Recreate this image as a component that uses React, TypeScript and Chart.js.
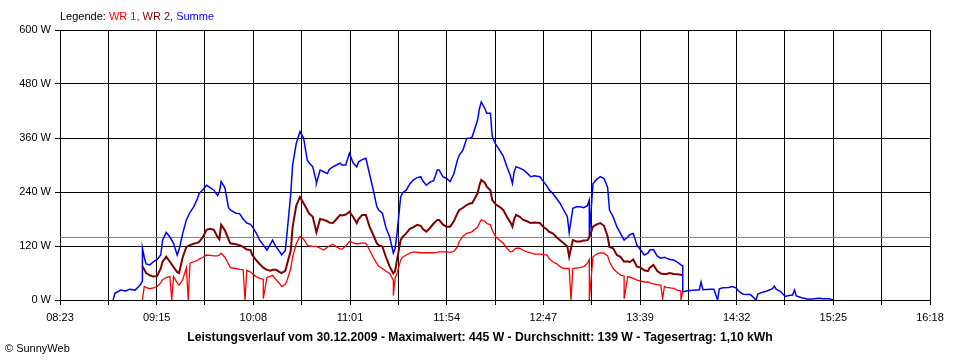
import React, { useEffect, useRef } from "react";
import { Chart, registerables } from "chart.js";

Chart.register(...registerables);

// ---- data -------------------------------------------------------------
const SERIES_NAMES = ["WR 1", "WR 2", "Summe"];
const SERIES_COLORS = ["#ff0000", "#800000", "#0000ff"];

const X_START = "08:23";
const X_END = "16:18";
const X_TICK_LABELS = ["08:23", "09:15", "10:08", "11:01", "11:54", "12:47", "13:39", "14:32", "15:25", "16:18"];
const Y_TICKS = [0, 120, 240, 360, 480, 600];
const AVERAGE_W = 139;

const TITLE_TEXT = "Leistungsverlauf vom 30.12.2009 - Maximalwert: 445 W - Durchschnitt: 139 W - Tagesertrag: 1,10 kWh";
const COPYRIGHT_TEXT = "\u00A9 SunnyWeb";
const LEGEND_LABEL = "Legende: ";

// main period, all three series
const TIMES = [
  "09:08", "09:09", "09:10", "09:12", "09:14", "09:16", "09:18", "09:19", "09:21", "09:23",
  "09:25", "09:27", "09:28", "09:30", "09:32", "09:34", "09:36", "09:38", "09:39", "09:41",
  "09:43", "09:45", "09:47", "09:49", "09:50", "09:51", "09:53", "09:55", "09:56", "09:59",
  "10:01", "10:03", "10:05", "10:07", "10:08", "10:10", "10:12", "10:14", "10:16", "10:18",
  "10:19", "10:21", "10:23", "10:24", "10:26", "10:27", "10:29", "10:30", "10:32", "10:34",
  "10:36", "10:38", "10:39", "10:41", "10:43", "10:45", "10:47", "10:49", "10:50", "10:52",
  "10:54", "10:56", "10:57", "10:59", "11:01", "11:03", "11:05", "11:06", "11:08", "11:10",
  "11:12", "11:14", "11:16", "11:17", "11:19", "11:21", "11:23", "11:25", "11:26", "11:27",
  "11:29", "11:30", "11:32", "11:34", "11:36", "11:38", "11:40", "11:41", "11:43", "11:45",
  "11:47", "11:49", "11:50", "11:52", "11:54", "11:56", "11:58", "12:00", "12:01", "12:03",
  "12:05", "12:07", "12:08", "12:11", "12:12", "12:13", "12:15", "12:16", "12:18", "12:19",
  "12:21", "12:23", "12:25", "12:27", "12:29", "12:30", "12:31", "12:32", "12:34", "12:36",
  "12:38", "12:40", "12:42", "12:45", "12:47", "12:49", "12:50", "12:52", "12:54", "12:56",
  "12:58", "13:00", "13:01", "13:03", "13:05", "13:07", "13:09", "13:11", "13:12", "13:14",
  "13:16", "13:18", "13:20", "13:22", "13:23", "13:25", "13:27", "13:29", "13:31", "13:33",
  "13:34", "13:36", "13:38", "13:40", "13:42", "13:44", "13:45", "13:47", "13:49", "13:51",
  "13:53", "13:54", "13:56", "13:58", "14:00", "14:02", "14:03",
];

const WR1 = [
  0, 30, 28, 25, 27, 30, 38, 45, 50, 52,
  52, 38, 33, 45, 72, 82, 85, 88, 91, 95,
  100, 99, 98, 98, 100, 104, 95, 80, 72, 70,
  68, 67, 66, 62, 59, 52, 48, 46, 50, 53,
  55, 45, 36, 30, 35, 44, 70, 96, 125, 141,
  135, 122, 120, 119, 119, 115, 111, 117, 120, 124,
  118, 113, 113, 120, 130, 127, 125, 125, 127, 126,
  111, 95, 81, 75, 70, 64, 59, 44, 50, 59,
  89, 95, 100, 104, 107, 106, 105, 105, 105, 105,
  105, 106, 107, 107, 107, 106, 108, 118, 130, 142,
  148, 150, 152, 162, 171, 178, 175, 170, 167, 155,
  140, 133, 126, 115, 107, 108, 112, 115, 115, 110,
  107, 105, 102, 102, 101, 100, 92, 85, 81, 74,
  70, 70, 70, 70, 71, 72, 74, 82, 90, 96,
  102, 105, 104, 98, 85, 70, 62, 55, 53, 52,
  51, 48, 44, 42, 40, 40, 38, 36, 34, 33,
  30, 28, 27, 26, 22, 20, 18,
];

const WR2 = [
  75, 68, 60, 55, 52, 53, 70, 85, 96, 85,
  73, 62, 60, 95, 118, 122, 125, 127, 129, 140,
  156, 158, 156, 140, 135, 167, 155, 135, 126, 124,
  122, 118, 112, 111, 100, 89, 80, 72, 67, 65,
  67, 67, 62, 60, 65, 80, 110, 162, 210, 229,
  215, 200, 192, 185, 150, 180, 178, 175, 172, 171,
  180, 189, 188, 190, 196, 185, 171, 180, 189, 189,
  163, 145, 126, 122, 119, 95, 74, 59, 65, 89,
  133, 140, 148, 158, 162, 167, 165, 158, 152, 160,
  170, 178, 178, 168, 163, 163, 175, 193, 200, 205,
  211, 215, 215, 237, 255, 267, 260, 252, 244, 222,
  212, 207, 200, 185, 172, 163, 180, 189, 185, 178,
  175, 171, 172, 171, 162, 156, 152, 148, 140, 133,
  126, 119, 96, 133, 130, 130, 132, 133, 140, 163,
  168, 171, 165, 141, 118, 115, 100, 96, 85, 86,
  84, 90, 74, 72, 66, 64, 72, 78, 65, 59,
  58, 58, 60, 58, 57, 56, 55,
];

const SUMME = [
  115, 95, 80, 78, 85, 90, 100, 133, 150, 140,
  126, 100, 112, 148, 178, 195, 207, 225, 237, 245,
  255, 250, 244, 232, 240, 263, 250, 205, 200, 193,
  192, 180, 171, 168, 163, 150, 133, 122, 111, 125,
  133, 118, 107, 100, 110, 150, 237, 300, 348, 374,
  360, 311, 305, 296, 262, 289, 285, 281, 290, 296,
  300, 304, 300, 300, 326, 305, 296, 307, 312, 315,
  280, 245, 207, 200, 193, 160, 140, 104, 115, 148,
  229, 238, 244, 258, 267, 272, 274, 265, 255, 262,
  265, 289, 289, 274, 270, 263, 280, 311, 322, 333,
  359, 360, 362, 400, 425, 440, 425, 415, 415, 363,
  345, 333, 320, 296, 275, 259, 285, 296, 293, 289,
  282, 274, 276, 274, 263, 252, 245, 237, 226, 215,
  200, 185, 150, 204, 207, 207, 205, 210, 222, 259,
  268, 274, 270, 250, 200, 185, 163, 148, 133, 140,
  145, 148, 122, 111, 100, 104, 111, 112, 98, 93,
  95, 93, 90, 89, 84, 78, 76,
];

// Summe before and after the inverter series
const SUMME_START_TIMES = ["08:52", "08:53", "08:56", "08:59", "09:01", "09:04", "09:06", "09:07", "09:08"];
const SUMME_START = [0, 15, 22, 20, 24, 22, 30, 35, 42];

const SUMME_TAIL_TIMES = [
  "14:03", "14:05", "14:07", "14:10", "14:12", "14:13", "14:14", "14:18", "14:20", "14:22",
  "14:23", "14:25", "14:28", "14:30", "14:32", "14:34", "14:36", "14:40", "14:43", "14:44",
  "14:47", "14:49", "14:52", "14:53", "14:54", "14:56", "14:59", "15:01", "15:03", "15:04",
  "15:05", "15:08", "15:11", "15:14", "15:17", "15:20", "15:23", "15:25",
];
const SUMME_TAIL = [
  18, 20, 21, 22, 22, 40, 23, 24, 24, 0,
  25, 27, 28, 30, 27, 18, 13, 12, 0, 13,
  18, 20, 25, 31, 24, 20, 8, 10, 11, 22,
  9, 5, 2, 2, 4, 3, 3, 0,
];

// short drop-outs
const WR1_DIP_TIMES = ["09:24", "09:33", "10:04", "10:14", "11:25", "13:02", "13:12", "13:31", "13:52", "14:02"];
const WR1_DIPS = [0, 0, 0, 3, 10, 0, 0, 3, 3, 0];
const SUMME_DIP_TIMES = ["10:43", "13:12"];
const SUMME_DIPS = [259, 141];

// ---- helpers -----------------------------------------------------------
const toMin = (s: string) => {
  const [h, m] = s.split(":").map(Number);
  return h * 60 + m;
};

type Pt = { x: number; y: number };
const points = (times: string[], values: number[]): Pt[] =>
  times.map((t, i) => ({ x: toMin(t), y: values[i] }));
const merge = (...parts: Pt[][]): Pt[] => {
  const all: Pt[] = [];
  parts.forEach((p) => all.push(...p));
  return all.map((p, i) => ({ p, i })).sort((a, b) => a.p.x - b.p.x || a.i - b.i).map((o) => o.p);
};

const FONT = "'Liberation Sans', Arial, sans-serif";

const textPlugin = {
  id: "sunnyText",
  afterDraw(chart: any) {
    const ctx = chart.ctx as CanvasRenderingContext2D;
    ctx.save();
    ctx.textBaseline = "middle";
    // legend
    ctx.font = `11px ${FONT}`;
    let x = chart.chartArea.left;
    const y = 17;
    ctx.fillStyle = "#000";
    ctx.textAlign = "left";
    ctx.fillText(LEGEND_LABEL, x, y);
    x += ctx.measureText(LEGEND_LABEL).width;
    SERIES_NAMES.forEach((name, i) => {
      const s = i < SERIES_NAMES.length - 1 ? name + ", " : name;
      ctx.fillStyle = SERIES_COLORS[i];
      ctx.fillText(s, x, y);
      x += ctx.measureText(s).width;
    });
    // title
    ctx.font = `bold 12.2px ${FONT}`;
    ctx.fillStyle = "#000";
    ctx.textAlign = "center";
    ctx.fillText(TITLE_TEXT, 480, 338);
    // copyright
    ctx.font = `11px ${FONT}`;
    ctx.textAlign = "left";
    ctx.fillText(COPYRIGHT_TEXT, 5, 349);
    ctx.restore();
  },
};

export default function App() {
  const ref = useRef<HTMLCanvasElement | null>(null);

  useEffect(() => {
    document.body.style.margin = "0";
    if (!ref.current) return;
    const xMin = toMin(X_START);
    const xMax = toMin(X_END);
    const nGrid = (X_TICK_LABELS.length - 1) * 2;

    const wr1 = merge(points(TIMES, WR1), points(WR1_DIP_TIMES, WR1_DIPS));
    const wr2 = points(TIMES, WR2);
    const summe = merge(
      points(SUMME_START_TIMES, SUMME_START),
      points(TIMES, SUMME),
      points(SUMME_TAIL_TIMES, SUMME_TAIL),
      points(SUMME_DIP_TIMES, SUMME_DIPS)
    );

    const line = (label: string, data: Pt[], color: string, width: number) => ({
      label,
      data,
      borderColor: color,
      backgroundColor: color,
      borderWidth: width,
      pointRadius: 0,
      tension: 0,
      fill: false,
    });

    const chart = new Chart(ref.current, {
      type: "line",
      data: {
        datasets: [
          line(SERIES_NAMES[0], wr1, SERIES_COLORS[0], 1.3),
          line(SERIES_NAMES[1], wr2, SERIES_COLORS[1], 2),
          line(SERIES_NAMES[2], summe, SERIES_COLORS[2], 1.5),
          line("Durchschnitt", [{ x: xMin, y: AVERAGE_W }, { x: xMax, y: AVERAGE_W }], "#808080", 1),
        ],
      },
      options: {
        animation: false,
        responsive: false,
        maintainAspectRatio: false,
        parsing: false as any,
        layout: { padding: { left: 0, right: 30, top: 30, bottom: 0 } },
        plugins: { legend: { display: false }, tooltip: { enabled: false }, title: { display: false } },
        scales: {
          x: {
            type: "linear",
            min: xMin,
            max: xMax,
            afterBuildTicks: (scale: any) => {
              scale.ticks = Array.from({ length: nGrid + 1 }, (_, i) => ({ value: xMin + (i * (xMax - xMin)) / nGrid }));
            },
            afterFit: (scale: any) => {
              scale.height = 60;
            },
            ticks: {
              autoSkip: false,
              maxRotation: 0,
              padding: 6,
              color: "#000",
              font: { family: FONT, size: 11 },
              callback: (_v: any, i: number) => (i % 2 === 0 ? X_TICK_LABELS[i / 2] : ""),
            },
            grid: { color: "#000", lineWidth: 1, tickLength: 5, drawTicks: true },
            border: { display: true, color: "#000" },
          },
          y: {
            type: "linear",
            min: Y_TICKS[0],
            max: Y_TICKS[Y_TICKS.length - 1],
            afterBuildTicks: (scale: any) => {
              scale.ticks = Y_TICKS.map((v) => ({ value: v }));
            },
            afterFit: (scale: any) => {
              scale.width = 60;
            },
            ticks: {
              padding: 4,
              color: "#000",
              font: { family: FONT, size: 11 },
              callback: (v: any) => `${v} W`,
            },
            grid: { color: "#000", lineWidth: 1, tickLength: 5, drawTicks: true },
            border: { display: true, color: "#000" },
          },
        },
      },
      plugins: [textPlugin],
    });
    return () => chart.destroy();
  }, []);

  return (
    <div style={{ position: "relative", width: 960, height: 360, background: "#fff" }}>
      <canvas ref={ref} width={960} height={360} style={{ width: 960, height: 360, display: "block" }} />
    </div>
  );
}
